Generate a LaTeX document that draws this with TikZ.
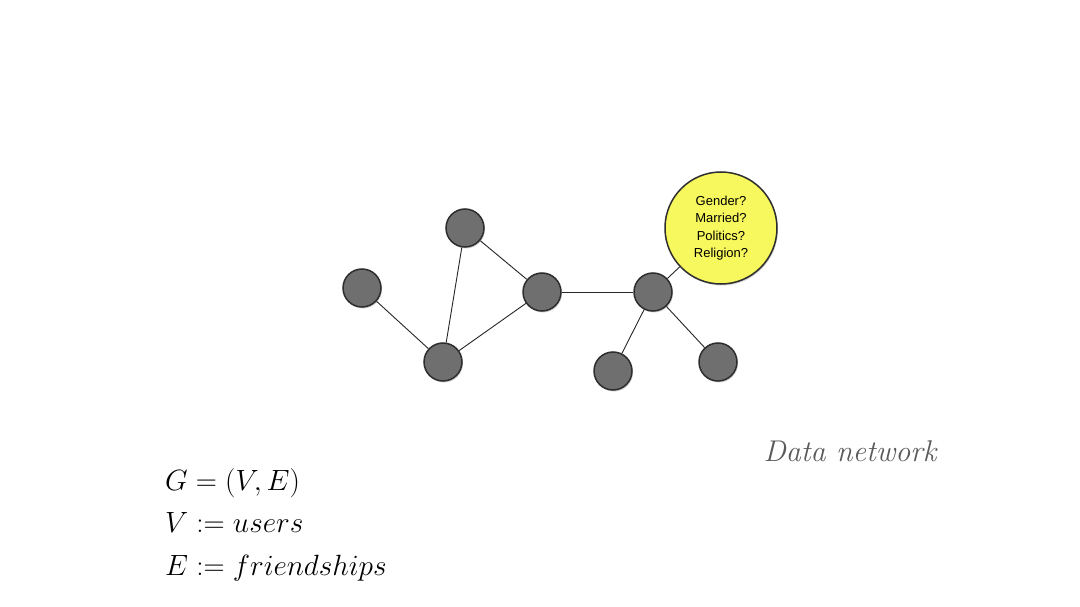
\RequirePackage{fix-cm}
\documentclass[tikz,border=0pt]{standalone}
\usepackage{fontspec}
\usetikzlibrary{shadows}
\newfontfamily\helv{Liberation Sans}
\definecolor{nodegray}{HTML}{6F6F6F}
\definecolor{nodeedge}{HTML}{2E2E2E}
\definecolor{qyellow}{HTML}{F7F75E}
\definecolor{labelgray}{HTML}{5A5A5A}
\tikzset{
  person/.style={circle, minimum size=38pt, inner sep=0pt, fill=nodegray, draw=nodeedge, line width=1.5pt,
    drop shadow={shadow xshift=1pt, shadow yshift=-1.5pt, opacity=0.35}},
  bubble/.style={circle, minimum size=112pt, inner sep=0pt, fill=qyellow, draw=nodeedge, line width=1.5pt,
    drop shadow={shadow xshift=1pt, shadow yshift=-1.5pt, opacity=0.35},
    align=center, font=\helv\fontsize{13}{17.5}\selectfont},
  link/.style={draw=black!85, line width=0.9pt},
  mathline/.style={anchor=base west, inner sep=0pt, font=\fontsize{29.3}{32}\selectfont},
}
\begin{document}
\begin{tikzpicture}[x=1pt,y=-1pt]
\useasboundingbox[fill=white] (0,0) rectangle (1080,607);
\node[person] (a) at (465,228) {};
\node[person] (b) at (362,288) {};
\node[person] (c) at (443,362) {};
\node[person] (d) at (542,292) {};
\node[person] (e) at (653,292) {};
\node[person] (f) at (613,371) {};
\node[person] (g) at (718,362) {};
\node[bubble] (q) at (721,228) {Gender?\\Married?\\Politics?\\Religion?};
\draw[link] (b) -- (c);
\draw[link] (c) -- (a);
\draw[link] (a) -- (d);
\draw[link] (c) -- (d);
\draw[link] (d) -- (e);
\draw[link] (e) -- (f);
\draw[link] (e) -- (g);
\draw[link] (e) -- (q);
\node[anchor=base, text=labelgray, font=\fontsize{30}{34}\selectfont\itshape] (lbl) at (850,461) {Data network};
\node[mathline] (m1) at (165,490) {$G=(V,E)$};
\node[mathline] (m2) at (165,532) {$V := users$};
\node[mathline] (m3) at (165,575) {$E := friendships$};
\end{tikzpicture}
\end{document}
